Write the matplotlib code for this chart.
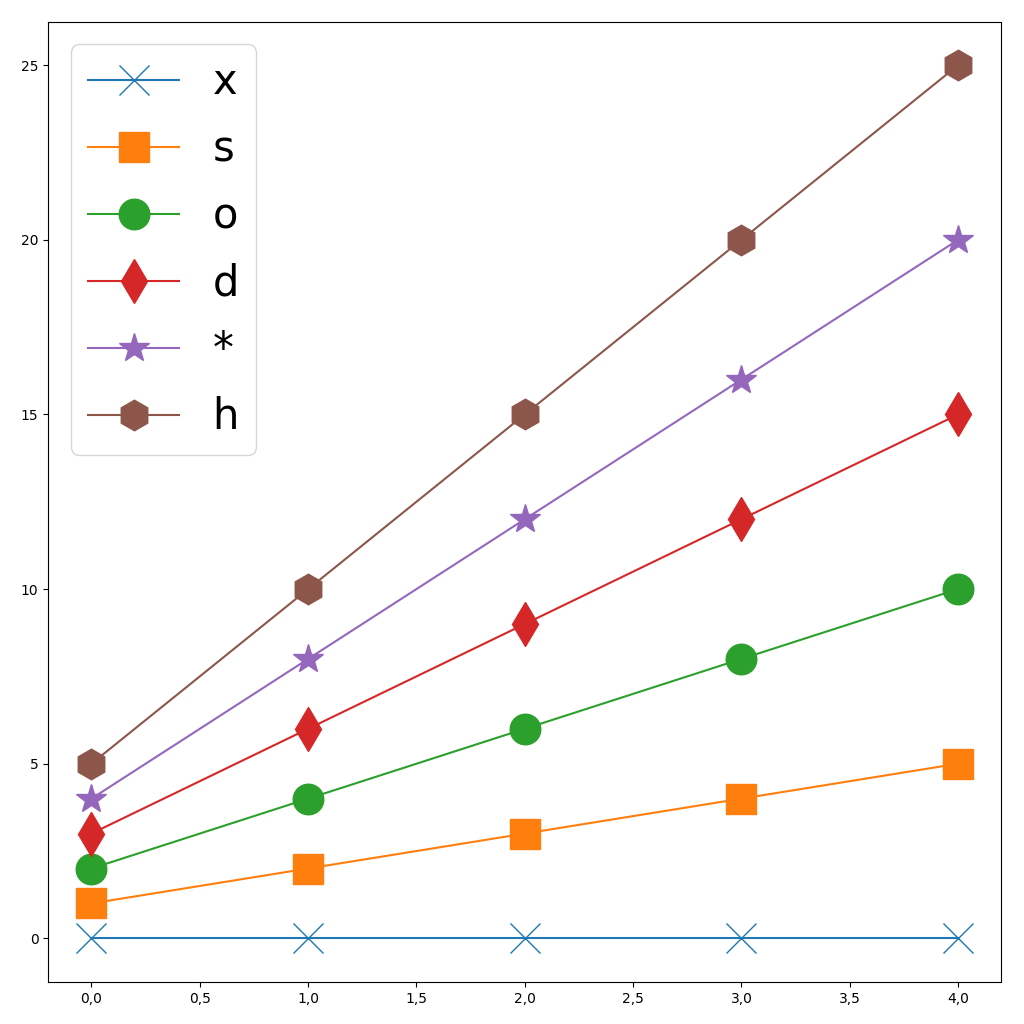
import matplotlib

matplotlib.use("Agg")
import matplotlib.pyplot as plt  # noqa: E402
from matplotlib.ticker import FuncFormatter  # noqa: E402

x_values = [0, 1, 2, 3, 4]
markers = ["x", "s", "o", "d", "*", "h"]
series = [
    [0, 0, 0, 0, 0],
    [1, 2, 3, 4, 5],
    [2, 4, 6, 8, 10],
    [3, 6, 9, 12, 15],
    [4, 8, 12, 16, 20],
    [5, 10, 15, 20, 25],
]

fig, ax = plt.subplots(figsize=(10.24, 10.24), dpi=100)
for marker, ys in zip(markers, series):
    ax.plot(x_values, ys, marker=marker, markersize=22, linewidth=1.5, label=marker)

ax.xaxis.set_major_formatter(FuncFormatter(lambda v, _: f"{v:.1f}".replace(".", ",")))
ax.tick_params(labelsize=10)
ax.legend(loc="upper left", fontsize=30, handlelength=2.2, labelspacing=0.6,
          borderaxespad=0.55)

fig.subplots_adjust(left=0.047, right=0.978, top=0.979, bottom=0.041)
fig.savefig("out.png", dpi=100, facecolor="white")
plt.close(fig)
